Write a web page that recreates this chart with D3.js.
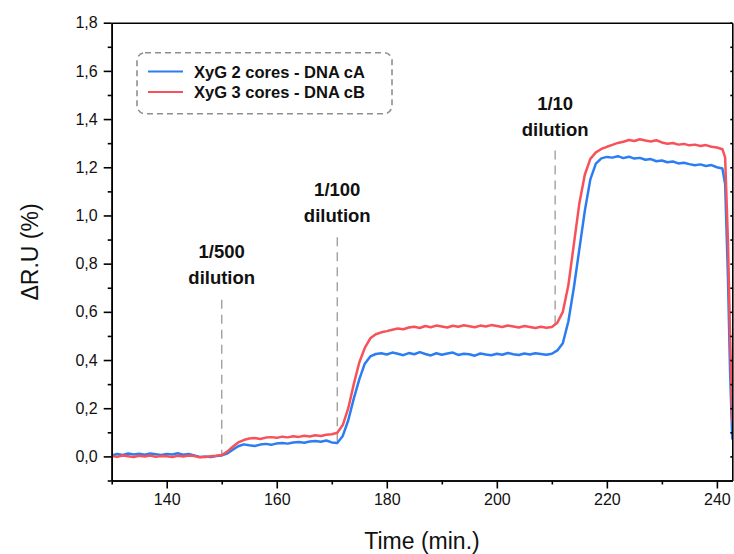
<!DOCTYPE html>
<html><head><meta charset="utf-8">
<script src="https://cdn.jsdelivr.net/npm/d3@7"></script>
<style>
html,body{margin:0;padding:0;background:#fff;}
svg{display:block;font-family:Arial,"Liberation Sans",sans-serif;}
</style></head>
<body><div id="chart"></div>
<script>
// ---- data ----
const timeMain = d3.range(130, 242, 1);          // 130 ... 241 min, 1-min sampling
const timeTail = [241.5, 242, 242.4, 242.8];
const times = timeMain.concat(timeTail);

const seriesNames = ["XyG 2 cores - DNA cA", "XyG 3 cores - DNA cB"];
const seriesColors = ["#2b7df2", "#f7525a"];

const valuesA = [
  0.004,0.010,0.006,0.012,0.008,0.011,0.007,0.012,0.009,0.006,
  0.010,0.008,0.013,0.007,0.010,0.004,-0.002,0.000,-0.003,0.002,
  0.004,0.012,0.028,0.042,0.050,0.046,0.043,0.049,0.052,0.048,
  0.054,0.056,0.053,0.058,0.060,0.057,0.062,0.064,0.061,0.066,
  0.058,0.056,0.085,0.150,0.240,0.320,0.385,0.415,0.425,0.428,
  0.423,0.431,0.426,0.420,0.429,0.424,0.433,0.425,0.419,0.428,
  0.422,0.427,0.431,0.421,0.426,0.424,0.418,0.427,0.423,0.420,
  0.426,0.422,0.429,0.424,0.421,0.427,0.423,0.428,0.425,0.422,
  0.426,0.440,0.470,0.560,0.700,0.860,1.020,1.150,1.215,1.237,
  1.243,1.240,1.246,1.238,1.244,1.236,1.239,1.231,1.234,1.225,
  1.228,1.221,1.224,1.216,1.219,1.213,1.208,1.212,1.205,1.209,
  1.200,1.195,
  1.130,0.750,0.350,0.070
];
const valuesB = [
  0.002,-0.002,0.004,0.001,-0.003,0.003,0.000,0.004,-0.002,0.002,
  0.001,-0.003,0.003,0.000,0.004,0.002,-0.004,-0.002,0.001,0.003,
  0.006,0.020,0.040,0.058,0.068,0.074,0.076,0.072,0.078,0.080,
  0.077,0.082,0.079,0.084,0.081,0.086,0.083,0.088,0.085,0.090,
  0.092,0.098,0.130,0.200,0.300,0.390,0.450,0.490,0.507,0.515,
  0.520,0.526,0.531,0.528,0.535,0.538,0.533,0.541,0.536,0.543,
  0.539,0.535,0.542,0.538,0.544,0.540,0.536,0.543,0.539,0.545,
  0.541,0.537,0.543,0.539,0.535,0.541,0.537,0.533,0.538,0.534,
  0.537,0.555,0.600,0.710,0.880,1.050,1.170,1.235,1.262,1.276,
  1.285,1.293,1.301,1.306,1.313,1.309,1.316,1.311,1.307,1.312,
  1.303,1.298,1.301,1.294,1.297,1.291,1.294,1.288,1.292,1.285,
  1.282,1.275,
  1.240,0.900,0.500,0.140
];

const xTicks = [140, 160, 180, 200, 220, 240];
const yTicks = [0.0, 0.2, 0.4, 0.6, 0.8, 1.0, 1.2, 1.4, 1.6, 1.8];

const annotTimes = [150, 171, 210.6];
const annotLabels = [["1/500", "dilution"], ["1/100", "dilution"], ["1/10", "dilution"]];
const annotTextLevel = [0.85, 1.106, 1.463];   // y of first text line (data units)
const annotLineTop = [0.65, 0.91, 1.27];
const annotLineBottom = [0.0, 0.06, 0.54];

// ---- layout ----
const W = 734, H = 554;
const mLeft = 111.7, mRight = 732.3, mTop = 22.7, mBottom = 480.5;

const svg = d3.select("#chart").append("svg").attr("width", W).attr("height", H);

const x = d3.scaleLinear().domain([130, 242.8]).range([mLeft, mRight]);
const y = d3.scaleLinear().domain([-0.1, 1.8]).range([mBottom, mTop]);

// clip
svg.append("clipPath").attr("id", "clip").append("rect")
  .attr("x", mLeft).attr("y", mTop).attr("width", mRight - mLeft).attr("height", mBottom - mTop);

// annotations: dashed lines
annotTimes.forEach((t, i) => {
  svg.append("line")
    .attr("x1", x(t)).attr("x2", x(t))
    .attr("y1", y(annotLineTop[i])).attr("y2", y(annotLineBottom[i]))
    .attr("stroke", "#a0a0a0").attr("stroke-width", 1.4)
    .attr("stroke-dasharray", "9,6");
  annotLabels[i].forEach((s, j) => {
    svg.append("text")
      .attr("x", x(t)).attr("y", y(annotTextLevel[i]) + j * 25.5)
      .attr("text-anchor", "middle").attr("dominant-baseline", "central")
      .attr("font-weight", "bold").attr("font-size", 18.5).attr("fill", "#111")
      .text(s);
  });
});

// lines
const g = svg.append("g").attr("clip-path", "url(#clip)");
const line = d3.line().x(d => x(d[0])).y(d => y(d[1]));
[valuesA, valuesB].forEach((vals, k) => {
  g.append("path")
    .datum(times.map((t, i) => [t, vals[i]]))
    .attr("fill", "none").attr("stroke", seriesColors[k])
    .attr("stroke-width", 2.5).attr("stroke-linejoin", "round")
    .attr("d", line);
});

// axes
const axisStyle = sel => {
  sel.select(".domain").attr("stroke", "#000").attr("stroke-width", 1.6);
  sel.selectAll(".tick line").attr("stroke", "#000").attr("stroke-width", 1.6);
  sel.selectAll("text").attr("font-size", 16).attr("fill", "#111")
    .attr("font-family", "Arial, 'Liberation Sans', sans-serif");
};
const fmt = d3.format(".1f");
const commaFmt = d => fmt(d).replace(".", ",");

// minor ticks
const xMinor = d3.range(130, 243, 10).filter(v => xTicks.indexOf(v) < 0);
const yMinor = d3.range(-0.1, 1.8, 0.2);

svg.append("g").attr("transform", `translate(0,${mBottom})`)
  .call(d3.axisBottom(x).tickValues(xMinor).tickSize(4).tickFormat("").tickSizeOuter(0))
  .call(axisStyle);
svg.append("g").attr("transform", `translate(0,${mBottom})`)
  .call(d3.axisBottom(x).tickValues(xTicks).tickSize(8).tickPadding(5).tickSizeOuter(0).tickFormat(d3.format("d")))
  .call(axisStyle);

svg.append("g").attr("transform", `translate(${mLeft},0)`)
  .call(d3.axisLeft(y).tickValues(yMinor).tickSize(4).tickFormat("").tickSizeOuter(0))
  .call(axisStyle);
svg.append("g").attr("transform", `translate(${mLeft},0)`)
  .call(d3.axisLeft(y).tickValues(yTicks).tickSize(8).tickPadding(6).tickSizeOuter(0).tickFormat(commaFmt))
  .call(axisStyle);

// top & right frame
svg.append("g").attr("transform", `translate(0,${mTop})`)
  .call(d3.axisTop(x).tickValues([]).tickSizeOuter(0)).call(axisStyle);
svg.append("g").attr("transform", `translate(${mRight},0)`)
  .call(d3.axisLeft(y).tickValues(yTicks.concat(yMinor)).tickSize(2).tickFormat("").tickSizeOuter(0))
  .call(axisStyle);

// axis titles
svg.append("text").attr("x", 422).attr("y", 541).attr("text-anchor", "middle")
  .attr("dominant-baseline", "central").attr("font-size", 23).attr("fill", "#111")
  .text("Time (min.)");
svg.append("text").attr("transform", "translate(30,252) rotate(-90)")
  .attr("text-anchor", "middle").attr("dominant-baseline", "central")
  .attr("font-size", 23).attr("fill", "#111").text("ΔR.U (%)");

// legend
const lg = svg.append("g");
lg.append("rect").attr("x", 137).attr("y", 52.7).attr("width", 255).attr("height", 61)
  .attr("rx", 8).attr("ry", 8).attr("fill", "none")
  .attr("stroke", "#8f8f8f").attr("stroke-width", 1.6).attr("stroke-dasharray", "6,4");
seriesNames.forEach((name, i) => {
  const yy = 71.5 + i * 20.5;
  lg.append("line").attr("x1", 148).attr("x2", 183).attr("y1", yy).attr("y2", yy)
    .attr("stroke", seriesColors[i]).attr("stroke-width", 2);
  lg.append("text").attr("x", 194).attr("y", yy).attr("dominant-baseline", "central")
    .attr("font-weight", "bold").attr("font-size", 16.5).attr("fill", "#111").text(name);
});
</script>
</body></html>
